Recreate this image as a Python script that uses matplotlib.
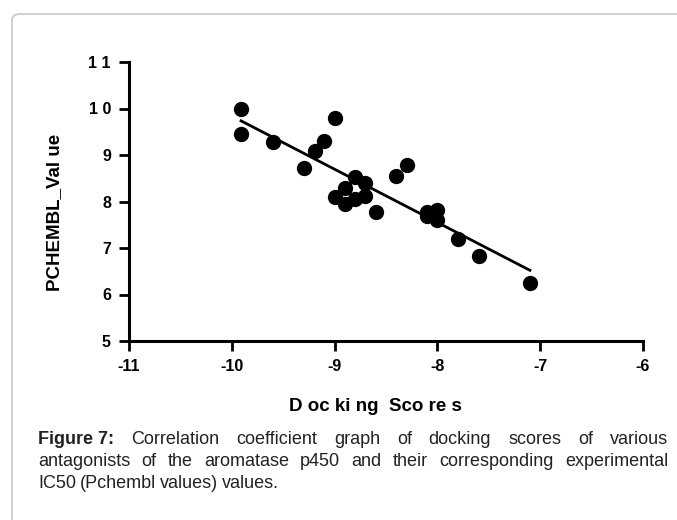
import numpy as np
import matplotlib
matplotlib.use("Agg")
import matplotlib.pyplot as plt
from matplotlib.patches import FancyBboxPatch

# docking score vs pchembl value
docking = [-9.91, -9.91, -9.6, -9.3, -9.19, -9.1, -9.0, -9.0, -8.9, -8.9, -8.8, -8.8,
           -8.7, -8.7, -8.6, -8.4, -8.3, -8.1, -8.1, -8.0, -8.0, -7.8, -7.6, -7.1]
pchembl = [10.0, 9.45, 9.28, 8.72, 9.08, 9.3, 9.8, 8.1, 8.28, 7.95, 8.53, 8.05,
           8.4, 8.12, 7.77, 8.54, 8.78, 7.77, 7.68, 7.82, 7.6, 7.2, 6.82, 6.24]

x_ticks = [-11, -10, -9, -8, -7, -6]
x_ticklabels = ["-11", "-10", "-9", "-8", "-7", "-6"]
y_ticks = [5, 6, 7, 8, 9, 10, 11]
y_ticklabels = ["5", "6", "7", "8", "9", "1 0", "1 1"]

plt.rcParams['font.family'] = ['Liberation Sans', 'DejaVu Sans']

fig = plt.figure(figsize=(6.77, 5.2), dpi=100)

# rounded frame round the figure
frame = FancyBboxPatch((12 / 677, -0.2), 1.2, 1.2 - 14 / 520,
                       boxstyle="round,pad=0,rounding_size=0.012",
                       transform=fig.transFigure, facecolor="none",
                       edgecolor="#c8c8c8", linewidth=1.2)
fig.patches.append(frame)

ax = fig.add_axes([129 / 677, 1 - 341 / 520, 514 / 677, 279 / 520])
ax.plot(docking, pchembl, 'o', color='black', markersize=10, clip_on=False)

# linear fit
m, b = np.polyfit(docking, pchembl, 1)
xs = np.array([min(docking), max(docking)])
ax.plot(xs, m * xs + b, color='black', linewidth=2)

ax.set_xlim(-11, -6)
ax.set_ylim(5, 11)
ax.set_xticks(x_ticks)
ax.set_xticklabels(x_ticklabels)
ax.set_yticks(y_ticks)
ax.set_yticklabels(y_ticklabels)
for s in ['top', 'right']:
    ax.spines[s].set_visible(False)
for s in ['left', 'bottom']:
    ax.spines[s].set_linewidth(2.2)
ax.tick_params(width=2, length=7, labelsize=11.5, pad=6)
for lab in ax.get_xticklabels() + ax.get_yticklabels():
    lab.set_fontweight('bold')

ax.set_xlabel("D oc ki ng  Sco re s", fontsize=13.5, fontweight='bold')
ax.xaxis.set_label_coords((375 - 129) / 514, -(398 - 341) / 279)
ax.set_ylabel("PCHEMBL_Val ue", fontsize=13.5, fontweight='bold')
ax.yaxis.set_label_coords(-(129 - 63) / 514, (341 - 212) / 279)

# caption, justified lines
lines = [
    ["Figure 7:", "Correlation", "coefficient", "graph", "of", "docking", "scores", "of", "various"],
    ["antagonists", "of", "the", "aromatase", "p450", "and", "their", "corresponding", "experimental"],
    ["IC50", "(Pchembl", "values)", "values."],
]
x0, x1 = 38, 668
ys = [439, 461, 483]
fig.canvas.draw()
r = fig.canvas.get_renderer()
for i, words in enumerate(lines):
    texts = []
    for j, w in enumerate(words):
        t = fig.text(0, 1 - ys[i] / 520, w, fontsize=13,
                     fontweight='bold' if (i == 0 and j == 0) else 'normal',
                     va='center', ha='left', color='#222222')
        texts.append(t)
    widths = [t.get_window_extent(r).width for t in texts]
    if i < 2:
        gap = (x1 - x0 - sum(widths)) / (len(words) - 1)
    else:
        gap = 4
    xpos = x0
    for t, w in zip(texts, widths):
        t.set_x(xpos / 677)
        xpos += w + gap

fig.savefig("out.png", dpi=100)
